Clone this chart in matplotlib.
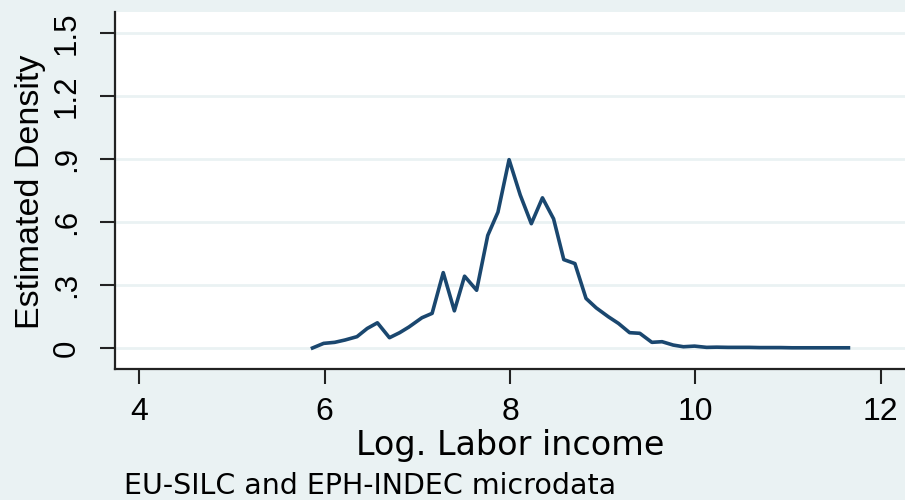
import matplotlib
matplotlib.use("Agg")
import matplotlib.pyplot as plt

# kernel density of log labor income
log_income = [5.87, 5.99, 6.11, 6.22, 6.35, 6.46, 6.57, 6.70, 6.81, 6.91,
              7.05, 7.16, 7.28, 7.40, 7.51, 7.64, 7.76, 7.87, 7.99, 8.11,
              8.23, 8.35, 8.47, 8.58, 8.70, 8.82, 8.93, 9.06, 9.17, 9.29,
              9.40, 9.53, 9.64, 9.76, 9.87, 9.99, 10.12, 10.23, 10.35, 10.46,
              10.58, 10.69, 10.81, 10.92, 11.04, 11.15, 11.27, 11.38, 11.50, 11.65]
density = [0.0, 0.022, 0.027, 0.038, 0.054, 0.093, 0.12, 0.049, 0.073, 0.10,
           0.144, 0.165, 0.359, 0.177, 0.342, 0.275, 0.536, 0.647, 0.897, 0.729,
           0.592, 0.715, 0.615, 0.421, 0.402, 0.236, 0.191, 0.149, 0.117, 0.073,
           0.070, 0.027, 0.030, 0.014, 0.006, 0.009, 0.003, 0.004, 0.003, 0.003,
           0.003, 0.002, 0.002, 0.002, 0.001, 0.001, 0.001, 0.001, 0.001, 0.001]

xticks = [4, 6, 8, 10, 12]
yticks = [0, 0.3, 0.6, 0.9, 1.2, 1.5]
ytick_labels = ['0', '.3', '.6', '.9', '1.2', '1.5']

bg = '#eaf2f3'
navy = '#1a476f'
axis_col = '#222222'
arial = ['Liberation Sans', 'DejaVu Sans']

fig = plt.figure(figsize=(9.05, 5.0), dpi=100, facecolor=bg)
ax = fig.add_axes([115 / 905, 131 / 500, 1 - 115 / 905, 357 / 500])
ax.set_facecolor('white')

ax.plot(log_income, density, color=navy, lw=2.6, solid_joinstyle='round', zorder=3)

ax.set_xlim(3.74, 12.26)
ax.set_ylim(-0.1, 1.6)
ax.set_xticks(xticks)
ax.set_xticklabels([str(t) for t in xticks], fontsize=23, family=arial)
ax.set_yticks(yticks)
ax.set_yticklabels(ytick_labels, fontsize=22.5, family=arial, rotation=90, va='center')

ax.grid(axis='y', color=bg, lw=2.0, zorder=1)
ax.tick_params(axis='both', direction='out', length=11, width=1.5, color=axis_col)
ax.tick_params(axis='x', pad=9)
ax.tick_params(axis='y', pad=13)

for s in ['top', 'right']:
    ax.spines[s].set_visible(False)
for s in ['left', 'bottom']:
    ax.spines[s].set_color(axis_col)
    ax.spines[s].set_linewidth(1.6)

fig.text(31 / 905, 1 - 191.5 / 500, 'Estimated Density', rotation=90,
         ha='center', va='center', fontsize=24.5, family=arial)
fig.text(510 / 905, 45 / 500, 'Log. Labor income', ha='center', va='baseline',
         fontsize=24, family='DejaVu Sans')
fig.text(124 / 905, 6.5 / 500, 'EU-SILC and EPH-INDEC microdata', ha='left',
         va='baseline', fontsize=20.5, family='DejaVu Sans')

fig.savefig('out.png', dpi=100, facecolor=bg)
